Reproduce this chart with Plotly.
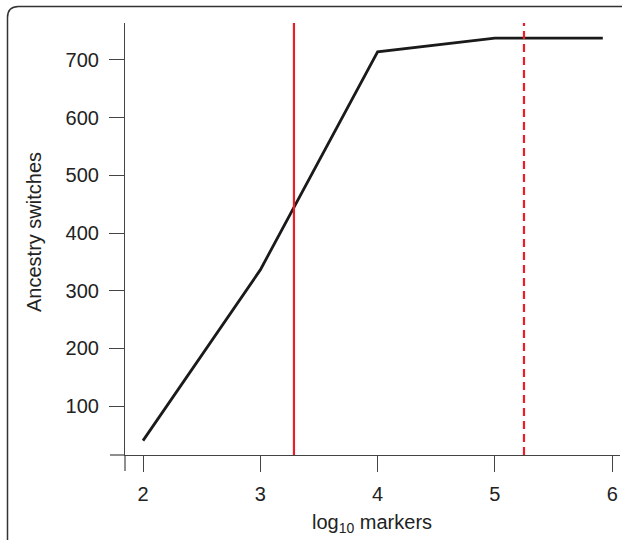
import plotly.graph_objects as go

# ---- data ----
log_markers = [2.0, 3.0, 4.0, 5.0, 5.92]
ancestry_switches = [40, 336, 714, 738, 738]
threshold_solid = 3.287
threshold_dashed = 5.248
x_ticks = [2, 3, 4, 5, 6]
y_ticks = [100, 200, 300, 400, 500, 600, 700]

W, H = 622, 540
L, R, T, B = 125, 2, 23, 85
PW, PH = W - L - R, H - T - B
X_RANGE = [1.8465, 6.0666]
Y_RANGE = [15.1, 764.1]

def px(x):
    return (x - L) / PW

def py(y):
    return (H - B - y) / PH

FONT = "Liberation Sans, Arial, Helvetica, sans-serif"
AX = "#444444"
FS = 20

fig = go.Figure()
fig.add_trace(go.Scatter(x=log_markers, y=ancestry_switches, mode="lines",
                         line=dict(color="#1a1a1a", width=2.8), showlegend=False))

shapes = []
for xv, dash in [(threshold_solid, "solid"), (threshold_dashed, "8px,5px")]:
    shapes.append(dict(type="line", xref="x", yref="paper", x0=xv, x1=xv, y0=0, y1=1,
                       line=dict(color="#ee1c25", width=2.2, dash=dash)))
# axis extensions (crossing axes)
shapes.append(dict(type="line", xref="paper", yref="paper", x0=px(110), x1=0, y0=0, y1=0,
                   line=dict(color=AX, width=1.2)))
shapes.append(dict(type="line", xref="paper", yref="paper", x0=0, x1=0, y0=0, y1=py(471),
                   line=dict(color=AX, width=1.2)))
# rounded frame
r = 11
x0, y0 = 7.5, 6.5
x1, y1 = 640, 560
path = (f"M {px(x0)},{py(y1)} L {px(x0)},{py(y0 + r)} "
        f"Q {px(x0)},{py(y0)} {px(x0 + r)},{py(y0)} L {px(x1)},{py(y0)}")
shapes.append(dict(type="path", xref="paper", yref="paper", path=path,
                   line=dict(color="#333333", width=1.5)))

annotations = [
    dict(text="Ancestry switches", xref="paper", yref="paper", x=px(34), y=py(232),
         showarrow=False, textangle=-90, font=dict(size=FS, color="#222", family=FONT),
         xanchor="center", yanchor="middle"),
    dict(text="log<sub>10</sub> markers", xref="paper", yref="paper", x=px(372), y=py(523),
         showarrow=False, font=dict(size=FS, color="#222", family=FONT),
         xanchor="center", yanchor="middle"),
]

fig.update_layout(
    width=W, height=H,
    margin=dict(l=L, r=R, t=T, b=B, pad=0, autoexpand=False),
    plot_bgcolor="white", paper_bgcolor="white",
    shapes=shapes, annotations=annotations,
    font=dict(family=FONT, size=FS, color="#222"),
    xaxis=dict(range=X_RANGE, tickvals=x_ticks, ticktext=[str(v) for v in x_ticks],
               showgrid=False, zeroline=False, showline=True, linecolor=AX, linewidth=1.2,
               ticks="outside", ticklen=16, tickwidth=1.2, tickcolor=AX,
               ticklabelstandoff=5, fixedrange=True, automargin=False),
    yaxis=dict(range=Y_RANGE, tickvals=y_ticks, ticktext=[str(v) for v in y_ticks],
               showgrid=False, zeroline=False, showline=True, linecolor=AX, linewidth=1.2,
               ticks="outside", ticklen=15, tickwidth=1.2, tickcolor=AX,
               ticklabelstandoff=6, fixedrange=True, automargin=False),
)

fig.write_html("out.html", config={"displayModeBar": False},
               post_script="document.body.style.margin='0';document.body.style.overflow='hidden';")
